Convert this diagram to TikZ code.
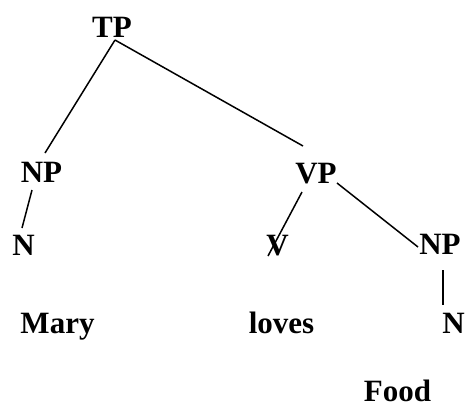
\documentclass[tikz,border=0pt]{standalone}
\usepackage{fontspec}
\setmainfont{Liberation Serif}
\begin{document}
\begin{tikzpicture}[x=1pt,y=-1pt,
  lbl/.style={inner sep=0pt,anchor=base,font=\fontsize{31}{31}\selectfont\bfseries},
  edge/.style={line width=1.5pt}]
\useasboundingbox (0,0) rectangle (467,405);
\node[lbl] (TP)  at (112,37) {TP};
\node[lbl] (NPl) at (41.5,182.5) {NP};
\node[lbl] (Nl)  at (23.5,255.5) {N};
\node[lbl] (VP)  at (316,183) {VP};
\node[lbl] (V)   at (277.5,255.5) {V};
\node[lbl] (NPr) at (440,254) {NP};
\node[lbl] (Nr)  at (453.5,333) {N};
\node[lbl] (Mary)  at (57.5,333) {Mary};
\node[lbl] (loves) at (281.5,333) {loves};
\node[lbl,text depth=0pt] (Food)  at (397.5,401) {Food};
\draw[edge] ([shift={(3,3)}]TP.base) -- ([shift={(3.5,-29.5)}]NPl.base);
\draw[edge] ([shift={(3,3)}]TP.base) -- ([shift={(-13,-37)}]VP.base);
\draw[edge] ([shift={(-9.5,7.5)}]NPl.base) -- ([shift={(-1.5,-27.5)}]Nl.base);
\draw[edge] ([shift={(-14,9)}]VP.base) -- ([shift={(-9.5,0.5)}]V.base);
\draw[edge] ([shift={(21,0)}]VP.base) -- ([shift={(-22,-7)}]NPr.base);
\draw[edge] ([shift={(3,16)}]NPr.base) -- ([shift={(-10.5,-28)}]Nr.base);
\end{tikzpicture}
\end{document}
